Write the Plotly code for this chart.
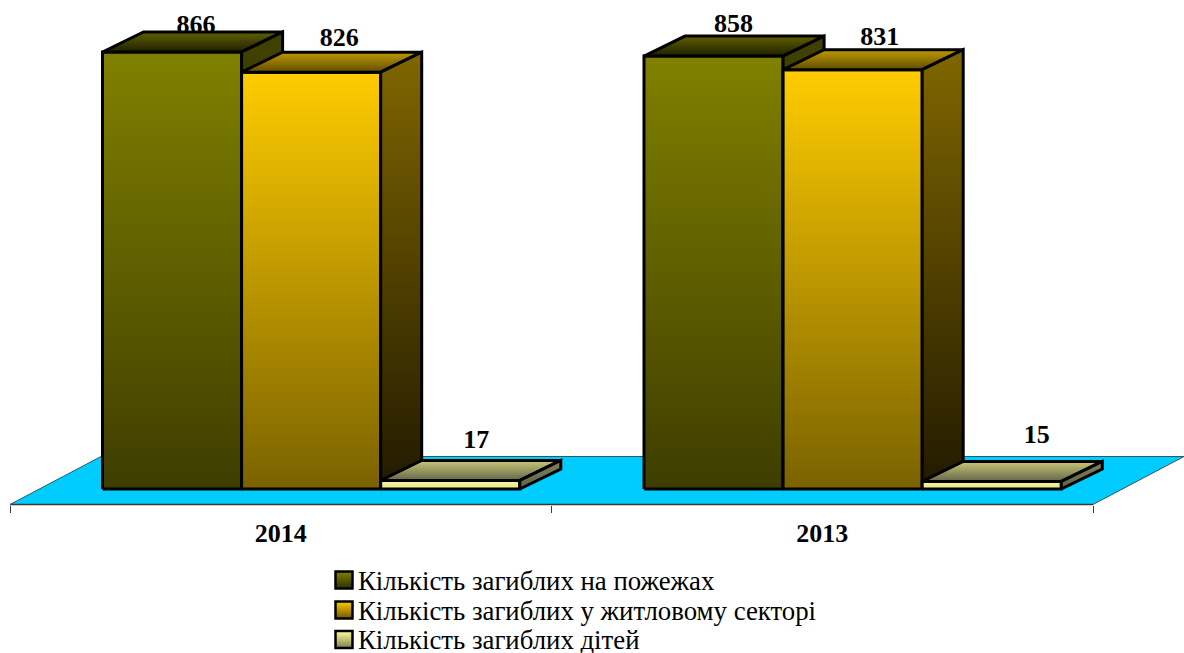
import plotly.graph_objects as go

# ---- data ----
categories = ["2014", "2013"]
series_names = ["Кількість загиблих на пожежах",
                "Кількість загиблих у житловому секторі",
                "Кількість загиблих дітей"]
deaths_fires = [866, 858]
deaths_housing = [826, 831]
deaths_children = [17, 15]
series_values = [deaths_fires, deaths_housing, deaths_children]

# ---- style ----
W, H = 1184, 653
X_UNIT = 541.5      # px per category
Y_UNIT = 0.5046     # px per death
X0_PX, Y0_PX = 10, 489
BAR_W = 139.1 / X_UNIT
GROUP_PAD = 92.5 / X_UNIT
DEPTH_X = 41 / X_UNIT
DEPTH_Y = 20 / Y_UNIT
FLOOR_BASE = -15.5 / Y_UNIT
FLOOR_DX = 91 / X_UNIT
FLOOR_DY = 48 / Y_UNIT
SERIF = "Liberation Serif"
PALETTE = [
    dict(front=("#3D3D00", "#808000"), top=("#202000", "#606000"), side=("#3D3D00", "#404000"), leg="#808000", leg2="#303000"),
    dict(front=("#7A6200", "#FFCC00"), top=("#604C00", "#C09A00"), side=("#221A00", "#806600"), leg="#FFCC00", leg2="#705800"),
    dict(front=("#E6E68A", "#F8F899"), top=("#66664A", "#C8C878"), side=("#606045", "#808060"), leg="#FFFF99", leg2="#808050"),
]
# hand-placed label nudges in the original chart: (series, category) -> px
LABEL_DX = [[24, 20], [28, 27], [26, 45]]
LABEL_BOTTOM_PX = [[39, 38.5], [52, 51], [454, 449]]
LEGEND_ROWS_PX = [580, 610, 638.5]
SWATCH_X_PX = 344
SWATCH_ROWS_PX = [580, 610, 639.5]

fig = go.Figure()


def poly(xs, ys, colors=None, solid=None, lw=3, lc="#000000"):
    kw = {}
    if colors:
        kw["fillgradient"] = dict(type="vertical", colorscale=[[0, colors[0]], [1, colors[1]]])
    elif solid:
        kw["fillcolor"] = solid
    fig.add_trace(go.Scatter(
        x=list(xs) + [xs[0]], y=list(ys) + [ys[0]], mode="lines", fill="toself",
        line=dict(color=lc, width=lw, shape="linear"), hoverinfo="skip", showlegend=False, **kw))


# floor
n = len(categories)
poly([0, n, n + FLOOR_DX, FLOOR_DX],
     [FLOOR_BASE, FLOOR_BASE, FLOOR_BASE + FLOOR_DY, FLOOR_BASE + FLOOR_DY],
     solid="#00CCFF", lw=1, lc="#2A5A66")
# category axis line
fig.add_trace(go.Scatter(x=[0, n], y=[FLOOR_BASE, FLOOR_BASE], mode="lines",
                         line=dict(color="#3A3A3A", width=1.6), hoverinfo="skip", showlegend=False))

label_x, label_y, label_t = [], [], []
for c in range(n):
    for s, vals in enumerate(series_values):
        v = vals[c]
        pal = PALETTE[s]
        x0 = c + GROUP_PAD + s * BAR_W
        x1 = x0 + BAR_W
        poly([x0, x1, x1, x0], [0, 0, v, v], colors=pal["front"])
        poly([x0, x1, x1 + DEPTH_X, x0 + DEPTH_X], [v, v, v + DEPTH_Y, v + DEPTH_Y], colors=pal["top"])
        poly([x1, x1 + DEPTH_X, x1 + DEPTH_X, x1], [0, DEPTH_Y, v + DEPTH_Y, v], colors=pal["side"])
        label_x.append((x0 + x1) / 2 + LABEL_DX[s][c] / X_UNIT)
        label_y.append((Y0_PX - LABEL_BOTTOM_PX[s][c]) / Y_UNIT)
        label_t.append(str(v))

fig.add_trace(go.Scatter(x=label_x, y=label_y, text=label_t, mode="text", textposition="top center",
                         textfont=dict(family=SERIF, size=26, color="#000000"),
                         texttemplate="<b>%{text}</b>", hoverinfo="skip", showlegend=False))

# legend: one legend per row so the row pitch can follow the original; the swatch
# sits closer to the text than a native legend allows, so it is a marker of its own
legends = {}
for s, name in enumerate(series_names):
    pal = PALETTE[s]
    key = "legend" if s == 0 else f"legend{s + 1}"
    fig.add_trace(go.Scatter(
        x=[None], y=[None], mode="markers", name=name, legend=key,
        marker=dict(symbol="square", size=10, color="rgba(0,0,0,0)", line=dict(width=0))))
    fig.add_trace(go.Scatter(
        x=[(SWATCH_X_PX - X0_PX) / X_UNIT], y=[(Y0_PX - SWATCH_ROWS_PX[s]) / Y_UNIT],
        mode="markers", showlegend=False, hoverinfo="skip", cliponaxis=False,
        marker=dict(symbol="square", size=17, color=pal["leg"],
                    gradient=dict(type="vertical", color=pal["leg2"]),
                    line=dict(color="#000000", width=2.5))))
    legends[key] = dict(x=318 / W, y=1 - LEGEND_ROWS_PX[s] / H, xanchor="left", yanchor="middle",
                        font=dict(family=SERIF, size=26.8, color="#000000"),
                        bgcolor="rgba(0,0,0,0)", itemclick=False, itemdoubleclick=False)

fig.update_layout(
    width=W, height=H, margin=dict(l=0, r=0, t=0, b=0, autoexpand=False),
    paper_bgcolor="white", plot_bgcolor="white", showlegend=True,
    xaxis=dict(range=[-X0_PX / X_UNIT, (W - X0_PX) / X_UNIT], anchor="free",
               position=1 - 505 / H, showgrid=False, zeroline=False, showline=False,
               automargin=False,
               tickmode="array", tickvals=[i + 0.5 for i in range(n)], ticktext=categories,
               ticks="", ticklabelstandoff=10,
               tickfont=dict(family=SERIF, size=26, color="#000000", weight="bold"),
               minor=dict(tickmode="array", tickvals=list(range(n + 1)), ticks="outside",
                          ticklen=7, tickwidth=1, tickcolor="#3A3A3A", showgrid=False)),
    yaxis=dict(range=[(Y0_PX - H) / Y_UNIT, Y0_PX / Y_UNIT], visible=False),
    **legends,
)
fig.write_html("out.html", config=dict(displayModeBar=False),
               post_script="document.body.style.margin='0';document.documentElement.style.overflow='hidden';")
